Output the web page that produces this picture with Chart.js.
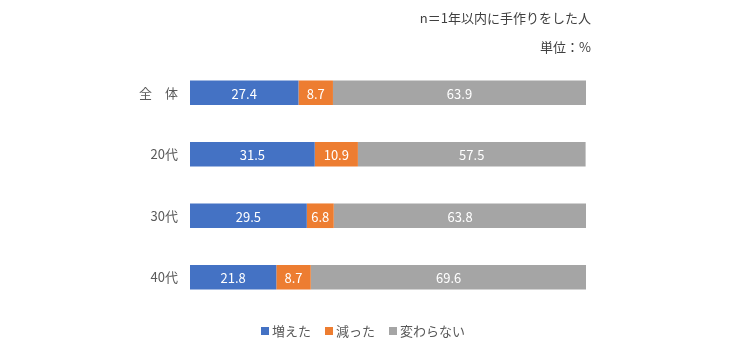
<!DOCTYPE html>
<html>
<head>
<meta charset="utf-8">
<script src="https://cdn.jsdelivr.net/npm/chart.js@4"></script>
<style>
  html, body { margin: 0; padding: 0; background: #fff; }
  #wrap { position: relative; width: 740px; height: 354px; }
  .note { position: absolute; right: 149px; font: 13px "Noto Sans CJK JP", sans-serif; color: #404040; white-space: nowrap; }
  #legend { position: absolute; left: 0; top: 321px; width: 726px; display: flex; justify-content: center;
            font: 13px "Noto Sans CJK JP", sans-serif; color: #595959; }
  #legend span { display: inline-flex; align-items: center; margin: 0 7px; }
  #legend i { display: inline-block; width: 8px; height: 8px; margin-right: 3px; }
</style>
</head>
<body>
<div id="wrap">
  <canvas id="chart" width="740" height="354"></canvas>
  <div class="note" style="top:8px">n＝1年以内に手作りをした人</div>
  <div class="note" style="top:37px">単位：%</div>
  <div id="legend"></div>
</div>
<script>
// ---- data ----
var categories = ['全　体', '20代', '30代', '40代'];
var seriesNames = ['増えた', '減った', '変わらない'];
var increased = [27.4, 31.5, 29.5, 21.8];
var decreased = [8.7, 10.9, 6.8, 8.7];
var unchanged = [63.9, 57.5, 63.8, 69.6];
var colors = ['#4472C4', '#ED7D31', '#A5A5A5'];

var FONT = '"Noto Sans CJK JP", "Noto Sans", sans-serif';

// value labels in the middle of each segment
var barLabels = {
  id: 'barLabels',
  afterDatasetsDraw: function(chart) {
    var ctx = chart.ctx;
    ctx.save();
    ctx.fillStyle = '#fff';
    ctx.font = '13px ' + FONT;
    ctx.textAlign = 'center';
    ctx.textBaseline = 'middle';
    chart.data.datasets.forEach(function(ds, i) {
      chart.getDatasetMeta(i).data.forEach(function(bar, j) {
        var cx = (bar.x + bar.base) / 2;
        ctx.fillText(ds.data[j].toFixed(1), cx, bar.y + 1);
      });
    });
    ctx.restore();
  }
};

// legend below the chart, built from the chart's datasets
var htmlLegend = {
  id: 'htmlLegend',
  afterUpdate: function(chart) {
    var box = document.getElementById('legend');
    box.innerHTML = '';
    chart.data.datasets.forEach(function(ds) {
      var item = document.createElement('span');
      var sw = document.createElement('i');
      sw.style.background = ds.backgroundColor;
      item.appendChild(sw);
      item.appendChild(document.createTextNode(ds.label));
      box.appendChild(item);
    });
  }
};

var values = [increased, decreased, unchanged];

new Chart(document.getElementById('chart').getContext('2d'), {
  type: 'bar',
  data: {
    labels: categories,
    datasets: seriesNames.map(function(name, i) {
      return {
        label: name, data: values[i],
        backgroundColor: colors[i], borderWidth: 0,
        barPercentage: 0.8, categoryPercentage: 0.5
      };
    })
  },
  options: {
    indexAxis: 'y',
    responsive: false, animation: false,
    layout: { padding: { left: 0, right: 154, top: 62, bottom: 46 } },
    plugins: {
      legend: { display: false },
      tooltip: { enabled: false }
    },
    scales: {
      x: { stacked: true, min: 0, max: 100, display: false },
      y: {
        stacked: true,
        grid: { display: false }, border: { display: false },
        ticks: { color: '#595959', padding: 4, font: { size: 13, family: FONT } },
        afterFit: function(scale) { scale.width = 190; }
      }
    }
  },
  plugins: [barLabels, htmlLegend]
});
</script>
</body>
</html>
